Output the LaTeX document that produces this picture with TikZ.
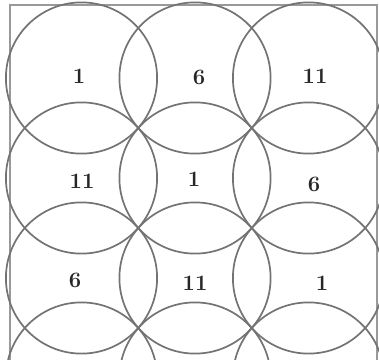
\documentclass[tikz,border=0pt]{standalone}
\begin{document}
\begin{tikzpicture}[x=1pt,y=-1pt,
  ring/.style={draw=black!55,line width=1.7pt},
  frame/.style={draw=black!40,line width=1.5pt},
  num/.style={font=\fontsize{22}{22}\selectfont\bfseries,text=black!85,inner sep=0pt}]
\useasboundingbox (0,0) rectangle (379,359);
\clip (0,0) rectangle (379,359);
\fill[white] (0,0) rectangle (379,359);
\draw[frame] (10,5) rectangle (377,370);
\foreach \cy in {78,178,278,378}{
  \foreach \cx in {81.5,195,308.5}{
    \draw[ring] (\cx,\cy) circle[radius=75.6];
  }
}
\node[num] (a1) at (79,76) {1};
\node[num] (a2) at (199,77) {6};
\node[num] (a3) at (315,76) {11};
\node[num] (b1) at (82,181) {11};
\node[num] (b2) at (194,179) {1};
\node[num] (b3) at (314,184) {6};
\node[num] (c1) at (75,280) {6};
\node[num] (c2) at (195,283) {11};
\node[num] (c3) at (322,283) {1};
\end{tikzpicture}
\end{document}
